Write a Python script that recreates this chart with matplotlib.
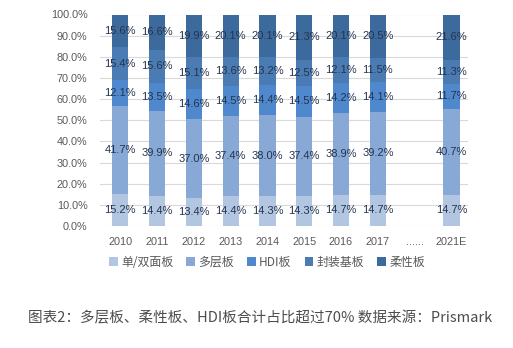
import matplotlib
matplotlib.use("Agg")
import matplotlib.pyplot as plt
import numpy as np

categories = ["2010", "2011", "2012", "2013", "2014", "2015", "2016", "2017", "......", "2021E"]
series_names = ["单/双面板", "多层板", "HDI板", "封装基板", "柔性板"]
single_double = [15.2, 14.4, 13.4, 14.4, 14.3, 14.3, 14.7, 14.7, None, 14.7]
multilayer = [41.7, 39.9, 37.0, 37.4, 38.0, 37.4, 38.9, 39.2, None, 40.7]
hdi = [12.1, 13.5, 14.6, 14.5, 14.4, 14.5, 14.2, 14.1, None, 11.7]
substrate = [15.4, 15.6, 15.1, 13.6, 13.2, 12.5, 12.1, 11.5, None, 11.3]
flexible = [15.6, 16.6, 19.9, 20.1, 20.1, 21.3, 20.1, 20.5, None, 21.6]
yticks = [0, 10, 20, 30, 40, 50, 60, 70, 80, 90, 100]
caption = "图表2：多层板、柔性板、HDI板合计占比超过70% 数据来源：Prismark"

colors = ["#b3c6e1", "#88a9d5", "#4f88cc", "#4a7bb3", "#3d6a9c"]
label_color = "#24344f"
tick_color = "#595959"

plt.rcParams['font.family'] = ['Liberation Sans', 'Noto Sans CJK SC', 'DejaVu Sans']

W, H = 513, 348
fig = plt.figure(figsize=(W / 100, H / 100), dpi=100)
ax = fig.add_axes([100 / W, (H - 226) / H, 368 / W, (226 - 14.5) / H])

x = np.arange(len(categories))
series = [single_double, multilayer, hdi, substrate, flexible]
bottom = np.zeros(len(categories))
for name, vals, col in zip(series_names, series, colors):
    v = np.array([np.nan if s is None else s for s in vals], dtype=float)
    vv = np.nan_to_num(v)
    ax.bar(x, vv, width=0.44, bottom=bottom, color=col, label=name, zorder=3)
    for i, val in enumerate(v):
        if not np.isnan(val):
            ax.text(x[i], bottom[i] + val / 2, f"{val:.1f}%", ha="center", va="center",
                    fontsize=8, color=label_color, zorder=4)
    bottom = bottom + vv

ax.set_xlim(-0.55, len(categories) - 0.55)
ax.set_ylim(0, 100)
ax.set_yticks(yticks)
ax.set_yticklabels([f"{t:.1f}%" for t in yticks])
ax.set_xticks(x)
ax.set_xticklabels(categories)
ax.tick_params(axis="both", length=0, labelsize=7.8, colors=tick_color)
ax.tick_params(axis="y", pad=9)
ax.tick_params(axis="x", pad=8)
ax.grid(axis="y", color="#d9d9d9", linewidth=0.8, zorder=0)
for s in ax.spines.values():
    s.set_visible(False)

ax.legend(loc="center", bbox_to_anchor=(267 / W, (H - 262) / H), bbox_transform=fig.transFigure,
          ncol=5, frameon=False, handlelength=0.7, handleheight=0.7,
          handletextpad=0.3, columnspacing=1.1, labelcolor=tick_color,
          prop={'family': ['Noto Sans CJK SC', 'DejaVu Sans'], 'size': 8.6})

fig.text(260 / W, (H - 318) / H, caption, ha="center", va="center", fontsize=10.5,
         color="#4d4d4d", family=['Noto Sans CJK SC', 'DejaVu Sans'])

fig.savefig("out.png", dpi=100)
